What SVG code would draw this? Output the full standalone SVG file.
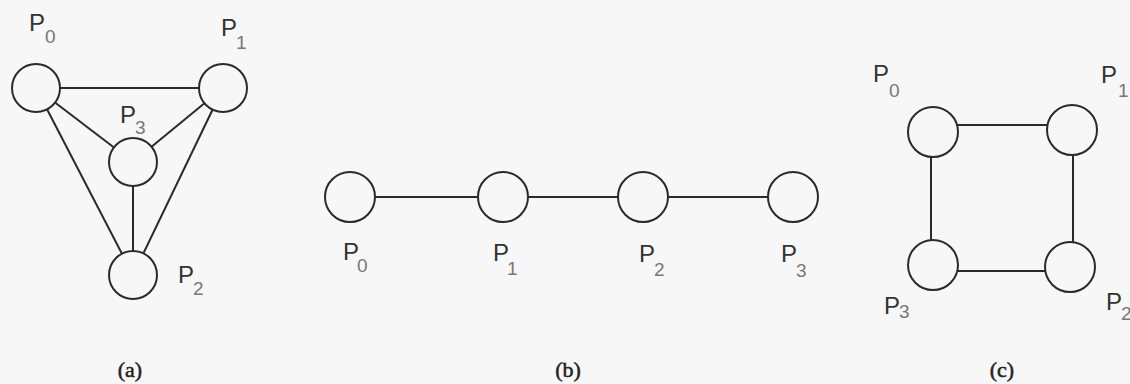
<svg xmlns="http://www.w3.org/2000/svg" width="1130" height="384" viewBox="0 0 1130 384">
<style>
.bg{fill:#f7f7f7}
.e{stroke:#2a2a2a;stroke-width:2;fill:none}
.n{stroke:#2a2a2a;stroke-width:2;fill:#f7f7f7}
.p{font-family:"Liberation Sans","DejaVu Sans",sans-serif;font-size:24px;fill:#333}
.s{font-size:19px;fill:#777}
.c{font-family:"Liberation Serif","Times New Roman",serif;font-size:22px;fill:#222;stroke:#222;stroke-width:0.5;text-anchor:middle}
</style>
<rect class="bg" x="0" y="0" width="1130" height="384"/>
<g id="connectors">
<line class="e" x1="36" y1="88" x2="223" y2="88"/>
<line class="e" x1="36" y1="88" x2="133" y2="162"/>
<line class="e" x1="223" y1="88" x2="133" y2="162"/>
<line class="e" x1="36" y1="88" x2="133" y2="275"/>
<line class="e" x1="223" y1="88" x2="133" y2="275"/>
<line class="e" x1="133" y1="162" x2="133" y2="275"/>
<line class="e" x1="350" y1="197" x2="793" y2="197"/>
<line class="e" x1="955" y1="125" x2="1050" y2="125"/>
<line class="e" x1="955" y1="271" x2="1048" y2="271"/>
<line class="e" x1="931" y1="154" x2="931" y2="243"/>
<line class="e" x1="1073" y1="152" x2="1073" y2="245"/>
</g>
<g id="a-P0"><circle class="n" cx="36" cy="88" r="24"/><text class="p" x="29" y="31">P<tspan class="s" dy="12">0</tspan></text></g>
<g id="a-P1"><circle class="n" cx="223" cy="88" r="24"/><text class="p" x="221" y="36">P<tspan class="s" dx="-1" dy="13">1</tspan></text></g>
<g id="a-P3"><circle class="n" cx="133" cy="162" r="24"/><text class="p" x="120" y="123">P<tspan class="s" dx="-1" dy="11">3</tspan></text></g>
<g id="a-P2"><circle class="n" cx="133" cy="275" r="24"/><text class="p" x="178" y="283">P<tspan class="s" dx="-1" dy="12">2</tspan></text></g>
<g id="b-P0"><circle class="n" cx="350" cy="197" r="25"/><text class="p" x="343" y="260">P<tspan class="s" dx="-2" dy="12">0</tspan></text></g>
<g id="b-P1"><circle class="n" cx="503" cy="197" r="25"/><text class="p" x="493" y="261">P<tspan class="s" dx="-2" dy="14">1</tspan></text></g>
<g id="b-P2"><circle class="n" cx="643" cy="197" r="25"/><text class="p" x="639" y="262">P<tspan class="s" dx="-1" dy="14">2</tspan></text></g>
<g id="b-P3"><circle class="n" cx="793" cy="197" r="25"/><text class="p" x="781" y="262">P<tspan class="s" dx="-1" dy="15">3</tspan></text></g>
<g id="c-P0"><circle class="n" cx="933" cy="132" r="25"/><text class="p" x="873" y="82">P<tspan class="s" dy="15">0</tspan></text></g>
<g id="c-P1"><circle class="n" cx="1072" cy="130" r="25"/><text class="p" x="1101" y="83">P<tspan class="s" dx="1" dy="14">1</tspan></text></g>
<g id="c-P3"><circle class="n" cx="933" cy="265" r="25"/><text class="p" x="884" y="314">P<tspan class="s" dx="-1" dy="4">3</tspan></text></g>
<g id="c-P2"><circle class="n" cx="1070" cy="267" r="25"/><text class="p" x="1106" y="310">P<tspan class="s" dx="-1" dy="10">2</tspan></text></g>
<text class="c" x="130" y="377">(a)</text>
<text class="c" x="568" y="377">(b)</text>
<text class="c" x="1002" y="377">(c)</text>
</svg>
